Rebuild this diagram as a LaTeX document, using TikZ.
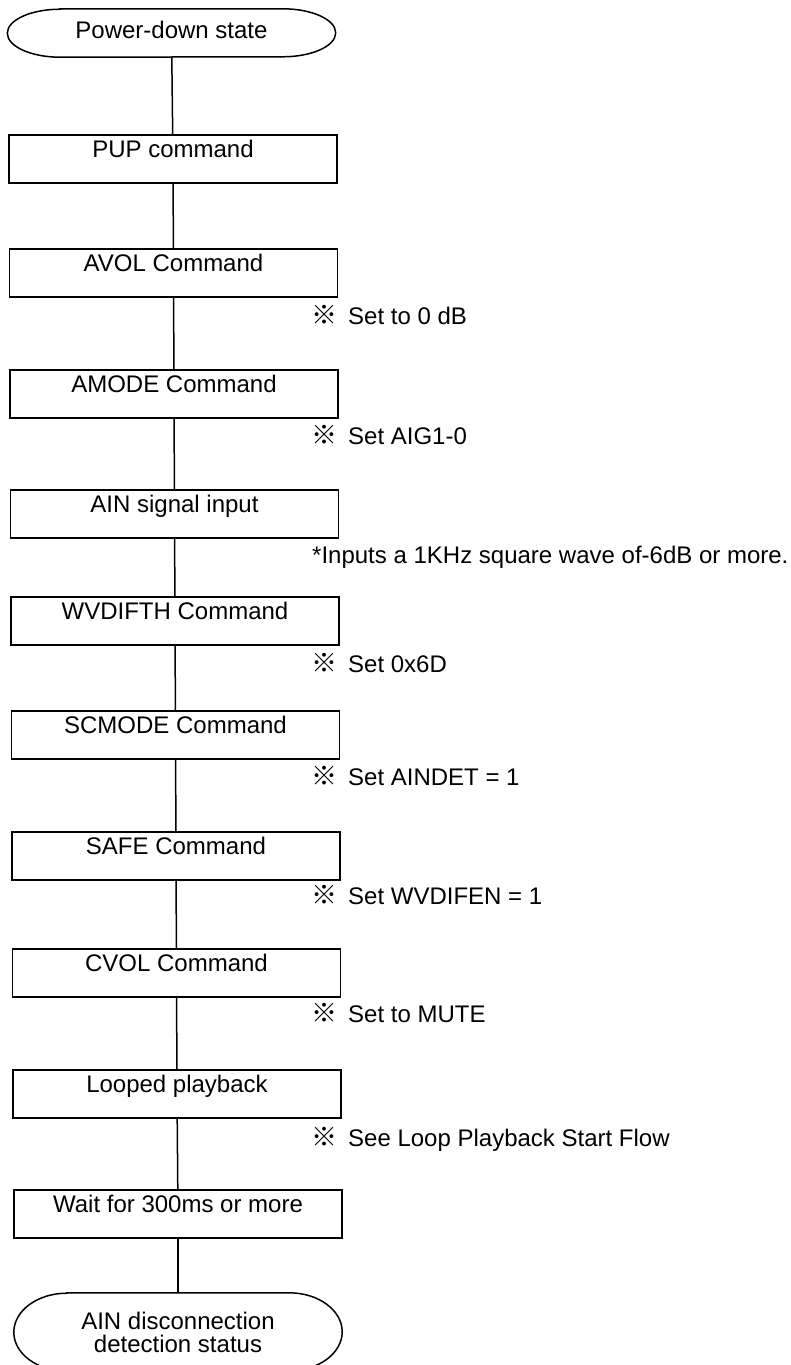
\documentclass[tikz,border=0pt]{standalone}
\usepackage{fontspec}
\setmainfont{Liberation Sans}
\newfontfamily\cjkfont{Noto Sans CJK JP}
\newcommand{\fs}{\fontsize{24pt}{23pt}\selectfont}
\newcommand{\refmark}{{\cjkfont\bfseries\fontsize{26pt}{23pt}\selectfont ※}\hspace{11pt}}
\begin{document}
\begin{tikzpicture}[x=1pt,y=-1pt,
  stepbox/.style={draw, line width=1.5pt, rectangle, minimum width=328pt, minimum height=48pt,
    inner sep=0pt, text height=22pt, text depth=26pt, font=\fs},
  termnode/.style={rectangle, inner sep=0pt, minimum width=328pt, font=\fs},
  note/.style={anchor=base west, inner sep=0pt, font=\fs},
  conn/.style={line width=1.5pt}]
\useasboundingbox (0,0) rectangle (790,1365);
\clip (0,0) rectangle (790,1365);

% start terminal
\node[termnode, minimum height=48pt, text height=17pt, text depth=7pt] (start) at (171.5,33) {Power-down state};
\draw[conn] ([xshift=53pt]start.north west) -- ([xshift=-53pt]start.north east)
  arc[start angle=90,end angle=-90,x radius=53pt,y radius=24pt]
  -- ([xshift=53pt]start.south west)
  arc[start angle=270,end angle=90,x radius=53pt,y radius=24pt] -- cycle;

\node[stepbox] (pup)   at (173,159)  {PUP command};
\node[stepbox] (avol)  at (173.5,273) {AVOL Command};
\node[stepbox] (amode) at (174,394)  {AMODE Command};
\node[stepbox] (ain)   at (174.5,514) {AIN signal input};
\node[stepbox] (wvd)   at (175,621)  {WVDIFTH Command};
\node[stepbox] (scm)   at (175.5,735) {SCMODE Command};
\node[stepbox] (safe)  at (176,856)  {SAFE Command};
\node[stepbox] (cvol)  at (176.5,973) {CVOL Command};
\node[stepbox] (loop)  at (177,1094) {Looped playback};
\node[stepbox] (wait)  at (178,1214) {Wait for 300ms or more};

% end terminal
\node[termnode, minimum height=78pt, align=center] (endT) at (178,1332) {AIN disconnection\\detection status};
\draw[conn] ([xshift=53pt]endT.north west) -- ([xshift=-53pt]endT.north east)
  arc[start angle=90,end angle=-90,x radius=53pt,y radius=39pt]
  -- ([xshift=53pt]endT.south west)
  arc[start angle=270,end angle=90,x radius=53pt,y radius=39pt] -- cycle;

% connectors
\draw[conn] (start) -- (pup);
\draw[conn] (pup) -- (avol);
\draw[conn] (avol) -- (amode);
\draw[conn] (amode) -- (ain);
\draw[conn] (ain) -- (wvd);
\draw[conn] (wvd) -- (scm);
\draw[conn] (scm) -- (safe);
\draw[conn] (safe) -- (cvol);
\draw[conn] (cvol) -- (loop);
\draw[conn] (loop) -- (wait);
\draw[conn] (wait) -- (endT);

% notes
\node[note] (n1) at (311,324)  {\refmark Set to 0 dB};
\node[note] (n2) at (311,444)  {\refmark Set AIG1-0};
\node[note] (n3) at (312,563)  {*Inputs a 1KHz square wave of-6dB or more.};
\node[note] (n4) at (311,672)  {\refmark Set 0x6D};
\node[note] (n5) at (311,785)  {\refmark Set AINDET = 1};
\node[note] (n6) at (311,904)  {\refmark Set WVDIFEN = 1};
\node[note] (n7) at (311,1022) {\refmark Set to MUTE};
\node[note] (n8) at (311,1146) {\refmark See Loop Playback Start Flow};
\end{tikzpicture}
\end{document}
